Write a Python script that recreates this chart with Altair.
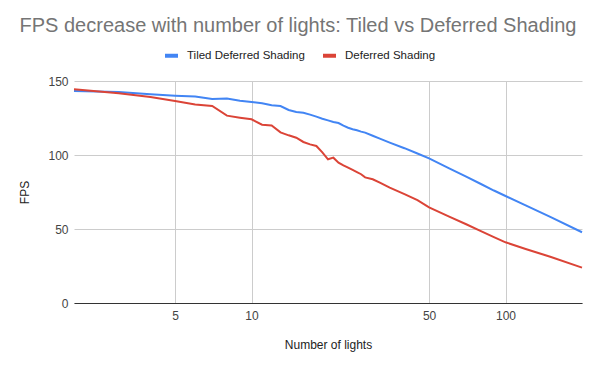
import altair as alt
import pandas as pd

lights = [2, 3, 4, 5, 6, 7, 8, 9, 10, 11, 12, 13, 14, 15, 16, 17, 18, 19, 20,
          21, 22, 23, 24, 25, 26, 27, 28, 30, 32, 35, 40, 45, 50, 60, 70, 80,
          90, 100, 120, 150, 200]
tiled = [143.2, 142.6, 141.0, 140.1, 139.6, 137.8, 138.2, 136.7, 135.8, 134.9,
         133.6, 133.1, 130.4, 129.0, 128.6, 127.3, 125.9, 124.5, 123.4, 122.3,
         121.6, 119.8, 118.4, 117.4, 116.7, 115.8, 115.1, 113.0, 111.1, 108.4,
         104.6, 101.0, 97.7, 91.0, 85.4, 80.4, 76.0, 72.3, 65.9, 58.2, 47.8]
deferred = [144.4, 141.7, 139.2, 136.5, 134.2, 133.1, 126.6, 125.2, 124.1, 120.5,
            120.0, 115.3, 113.3, 111.7, 108.8, 107.2, 106.1, 101.8, 97.1, 98.2,
            94.8, 93.0, 91.4, 89.9, 88.5, 87.0, 84.9, 83.6, 81.3, 77.9,
            73.6, 69.5, 64.6, 58.4, 53.2, 48.5, 44.5, 41.0, 36.5, 31.2, 23.9]

series_names = ["Tiled Deferred Shading", "Deferred Shading"]
series_colors = ["#4285F4", "#DB4437"]

rows = []
for x, t, d in zip(lights, tiled, deferred):
    rows.append({"lights": x, "fps": t, "series": series_names[0]})
    rows.append({"lights": x, "fps": d, "series": series_names[1]})
df = pd.DataFrame(rows)

FONT = "Arial, Liberation Sans"

chart = alt.Chart(df).mark_line(strokeWidth=2).encode(
    x=alt.X(
        "lights:Q",
        scale=alt.Scale(type="log", domain=[2, 200], nice=False),
        axis=alt.Axis(
            values=[5, 10, 50, 100], title="Number of lights", format="d",
            grid=True, gridColor="#cccccc", ticks=False, domain=True,
            domainColor="#333333", labelFont=FONT, labelFontSize=12,
            labelColor="#444444", labelPadding=7, titleFont=FONT,
            titleFontSize=12, titleFontWeight="normal", titleColor="#222222",
            titlePadding=18,
        ),
    ),
    y=alt.Y(
        "fps:Q",
        scale=alt.Scale(domain=[0, 150], nice=False),
        axis=alt.Axis(
            values=[0, 50, 100, 150], title="FPS", grid=True,
            gridColor="#cccccc", ticks=False, domain=False, labelFont=FONT,
            labelFontSize=12, labelColor="#444444", labelPadding=6,
            titleFont=FONT, titleFontSize=12, titleFontWeight="normal",
            titleColor="#222222", titlePadding=16,
        ),
    ),
    color=alt.Color(
        "series:N",
        sort=series_names,
        scale=alt.Scale(domain=series_names, range=series_colors),
        legend=alt.Legend(
            orient="none", legendX=89, legendY=-34, direction="horizontal",
            title=None, symbolType="M-1,0L1,0", symbolSize=169,
            symbolStrokeWidth=4, labelFont=FONT,
            labelFontSize=11.5, labelColor="#222222", columnPadding=10,
            labelOffset=7,
        ),
    ),
).properties(
    width=508,
    height=222,
    title=alt.TitleParams(
        "FPS decrease with number of lights: Tiled vs Deferred Shading",
        font=FONT, fontSize=20, fontWeight="normal", color="#757575",
        anchor="middle", offset=11, dx=-30,
    ),
    autosize=alt.AutoSizeParams(type="none"),
    padding={"left": 66, "top": 73, "right": 10, "bottom": 60},
).configure_view(stroke=None)

chart.save("out.html", embed_options={"renderer": "svg", "actions": False})
